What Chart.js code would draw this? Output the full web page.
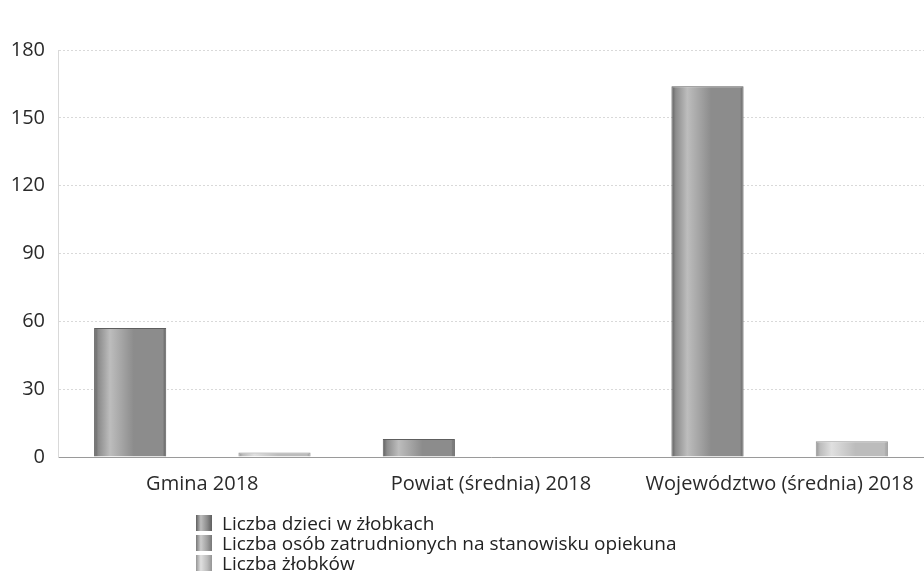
<!DOCTYPE html>
<html>
<head>
<meta charset="utf-8">
<script src="https://cdn.jsdelivr.net/npm/chart.js@4"></script>
<style>
  html, body { margin: 0; padding: 0; background: #fff; }
  #wrap { position: relative; width: 924px; height: 585px; }
  #legend { position: absolute; left: 196px; top: 513px; font-family: "Open Sans", sans-serif; font-size: 19px; color: #222; }
  #legend div { height: 20px; line-height: 20px; display: flex; align-items: center; }
  #legend span.box { display: inline-block; width: 16px; height: 16px; margin-right: 10px; }
</style>
</head>
<body>
<div id="wrap">
  <canvas id="chart" width="924" height="585"></canvas>
  <div id="legend"></div>
</div>
<script>
const categories = ['Gmina 2018', 'Powiat (średnia) 2018', 'Województwo (średnia) 2018'];
const seriesNames = [
  'Liczba dzieci w żłobkach',
  'Liczba osób zatrudnionych na stanowisku opiekuna',
  'Liczba żłobków'
];
const dzieci = [57, 8, 164];
const opiekunowie = [0, 0, 0];
const zlobki = [2, 0, 7];
const yTicks = [0, 30, 60, 90, 120, 150, 180];

// jasne/ciemne odcienie dla efektu "walca"
const shades = [
  ['#bdbdbd', '#8c8c8c', '#5e5e5e'],
  ['#cccccc', '#a0a0a0', '#777777'],
  ['#e0e0e0', '#bcbcbc', '#959595']
];

const CAT_PCT = 0.75;

function barFill(dsIndex) {
  return function (ctx) {
    const chart = ctx.chart;
    const xs = chart.scales.x;
    const s = shades[dsIndex];
    if (!xs || !xs.width || ctx.dataIndex === undefined) return s[1];
    const catW = xs.width / categories.length;
    const barW = catW * CAT_PCT / seriesNames.length;
    const left = xs.getPixelForValue(ctx.dataIndex) - catW * CAT_PCT / 2 + dsIndex * barW;
    const g = chart.ctx.createLinearGradient(left, 0, left + barW, 0);
    g.addColorStop(0, s[2]);
    g.addColorStop(0.06, s[1]);
    g.addColorStop(0.22, s[0]);
    g.addColorStop(0.55, s[1]);
    g.addColorStop(0.95, s[1]);
    g.addColorStop(1, s[2]);
    return g;
  };
}

const seriesData = [dzieci, opiekunowie, zlobki];

new Chart(document.getElementById('chart'), {
  type: 'bar',
  data: {
    labels: categories,
    datasets: seriesNames.map((name, i) => ({
      label: name,
      data: seriesData[i],
      backgroundColor: barFill(i),
      borderColor: shades[i][2],
      borderWidth: 1,
      categoryPercentage: CAT_PCT,
      barPercentage: 1
    }))
  },
  options: {
    responsive: false,
    animation: false,
    layout: { padding: { top: 50, right: 0, bottom: 74, left: 0 } },
    plugins: {
      legend: { display: false },
      tooltip: { enabled: false }
    },
    scales: {
      x: {
        afterFit: (s) => { s.paddingRight = 0; s.paddingLeft = 0; },
        grid: { display: false, drawTicks: false },
        border: { color: '#9a9a9a', dash: [2, 2] },
        ticks: {
          color: '#2a2a2a',
          padding: 15,
          font: { family: 'Open Sans', size: 20 }
        }
      },
      y: {
        min: 0,
        max: 180,
        afterFit: (s) => { s.width = 58; },
        afterBuildTicks: (s) => { s.ticks = yTicks.map(v => ({ value: v })); },
        grid: { color: '#d9d9d9', drawTicks: false },
        border: { color: '#d9d9d9', dash: [2, 2] },
        ticks: {
          color: '#2a2a2a',
          padding: 13,
          font: { family: 'Open Sans', size: 20 }
        }
      }
    }
  }
});

const legend = document.getElementById('legend');
seriesNames.forEach((name, i) => {
  const row = document.createElement('div');
  const box = document.createElement('span');
  box.className = 'box';
  box.style.background = 'linear-gradient(to right, ' + shades[i][2] + ', ' + shades[i][0] + ' 30%, ' + shades[i][1] + ' 70%, ' + shades[i][2] + ')';
  row.appendChild(box);
  row.appendChild(document.createTextNode(name));
  legend.appendChild(row);
});
</script>
</body>
</html>
